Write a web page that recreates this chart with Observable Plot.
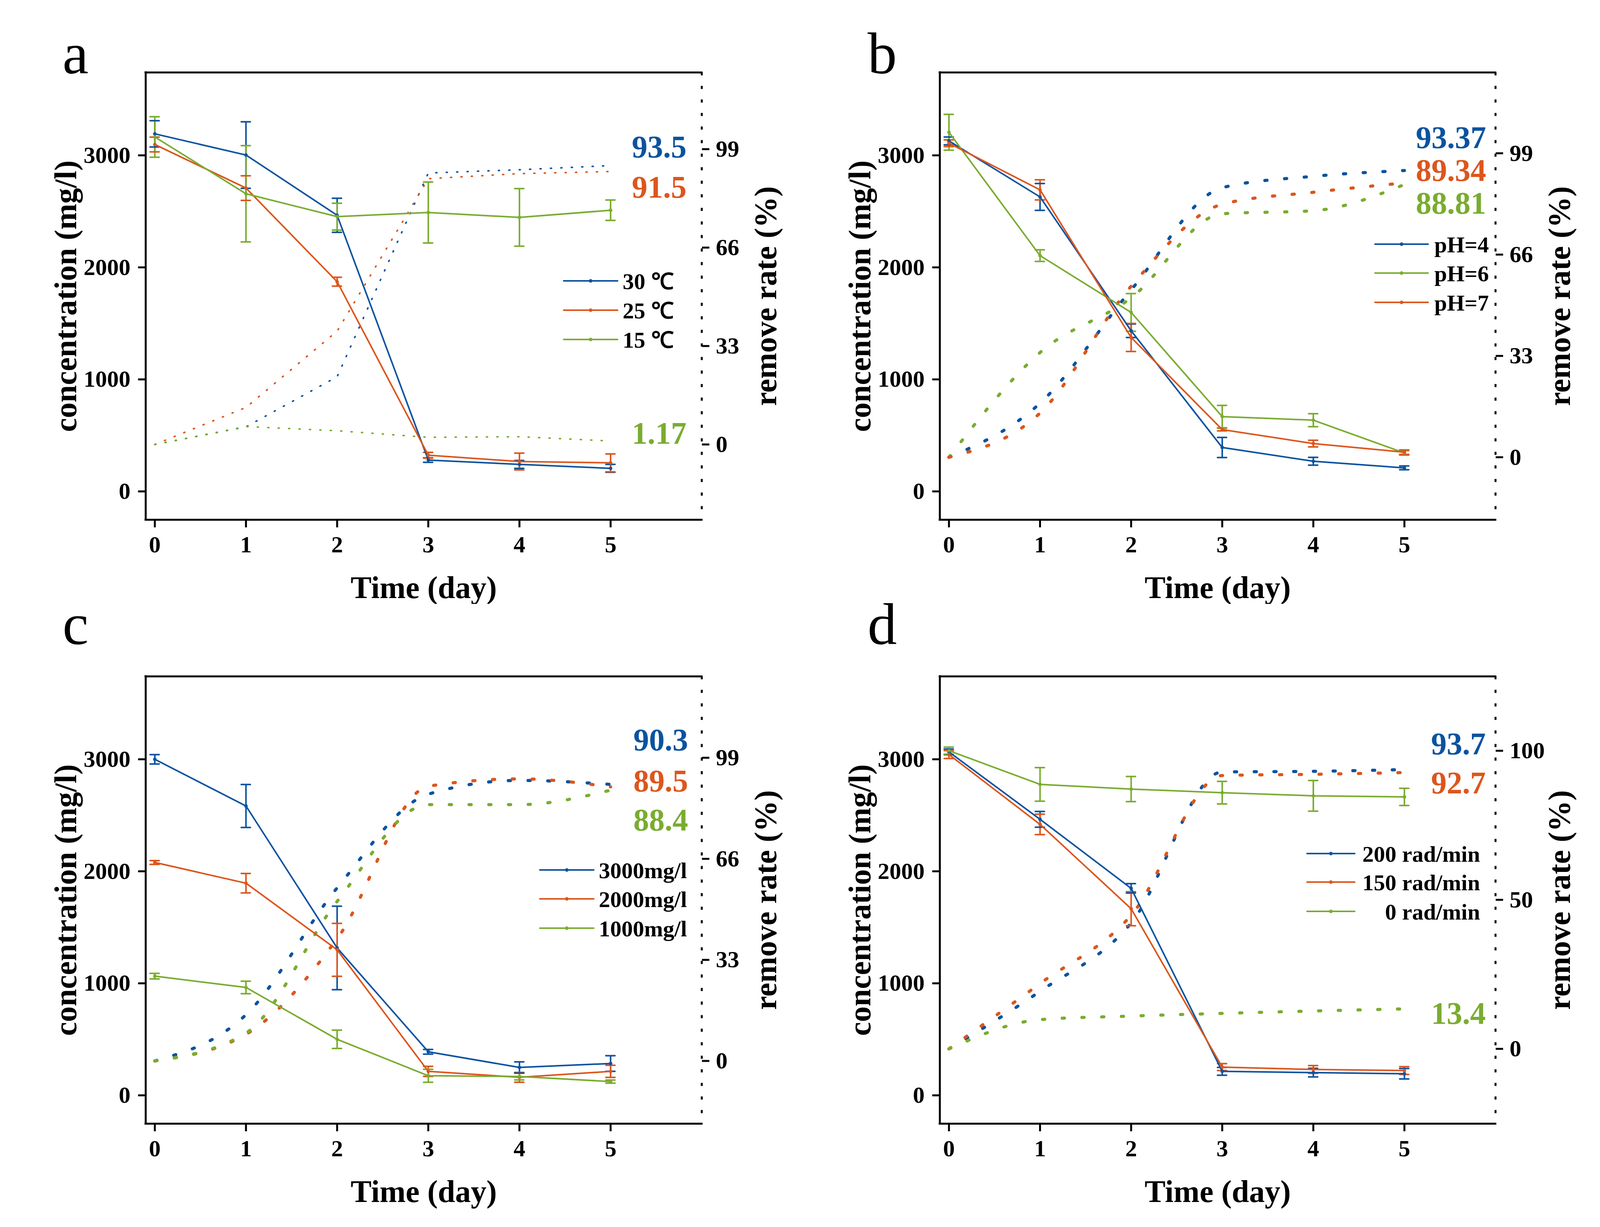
<!DOCTYPE html>
<html>
<head>
<meta charset="utf-8">
<script src="https://cdn.jsdelivr.net/npm/d3@7"></script>
<script src="https://cdn.jsdelivr.net/npm/@observablehq/plot@0.6"></script>
<style>
html,body{margin:0;padding:0;background:#fff;}
#fig{position:relative;width:4117px;height:3141px;background:#fff;overflow:hidden;}
.panel{position:absolute;}
#overlay{position:absolute;left:0;top:0;}
</style>
</head>
<body>
<div id="fig"></div>
<script>
// ---------------- data ----------------
const days = [0, 1, 2, 3, 4, 5];
const BLUE = "#0b539f", ORANGE = "#dc561d", GREEN = "#7aac30";

// panel a : temperature
const aSeries = ["30 ℃", "25 ℃", "15 ℃"];
const aColors = [BLUE, ORANGE, GREEN];
const aConc = [[3192, 3003, 2465, 280, 241, 206], [3097, 2708, 1872, 323, 267, 255], [3164, 2657, 2453, 2490, 2446, 2510]];
const aErr = [[117, 297, 152, 20, 35, 35], [66, 110, 40, 26, 75, 80], [181, 430, 120, 272, 257, 91]];
const aRate = [[0, 5.9, 22.7, 91.0, 92.1, 93.5], [0, 12.4, 38.0, 89.1, 90.8, 91.5], [0, 6.0, 4.6, 2.4, 2.6, 1.17]];
const aFinal = ["93.5", "91.5", "1.17"];
const aRateTicks = [0, 33, 66, 99];

// panel b : pH
const bSeries = ["pH=4", "pH=6", "pH=7"];
const bColors = [BLUE, GREEN, ORANGE];
const bConc = [[3129, 2629, 1434, 392, 269, 210], [3206, 2105, 1598, 668, 636, 343], [3108, 2692, 1374, 552, 427, 350]];
const bErr = [[35, 120, 60, 90, 35, 17], [160, 52, 168, 100, 58, 20], [30, 90, 125, 12, 30, 20]];
const bRate = [[0, 17.6, 54.5, 87.8, 91.5, 93.37], [0, 34.1, 51.9, 79.3, 80.3, 88.81], [0, 14.4, 55.7, 82.4, 86.3, 89.34]];
const bFinal = ["93.37", "88.81", "89.34"];
const bRateTicks = [0, 33, 66, 99];

// panel c : initial concentration
const cSeries = ["3000mg/l", "2000mg/l", "1000mg/l"];
const cColors = [BLUE, ORANGE, GREEN];
const cConc = [[3000, 2583, 1316, 389, 249, 284], [2079, 1894, 1299, 214, 161, 214], [1064, 963, 500, 175, 168, 123]];
const cErr = [[42, 192, 373, 21, 50, 70], [17, 87, 236, 45, 44, 54], [25, 56, 82, 58, 30, 14]];
const cRate = [[0, 15.1, 56.5, 87.1, 91.6, 90.3], [0, 8.7, 39.9, 89.7, 92.1, 89.5], [0, 9.1, 52.1, 83.7, 83.7, 88.4]];
const cFinal = ["90.3", "89.5", "88.4"];
const cRateTicks = [0, 33, 66, 99];

// panel d : rotation speed
const dSeries = ["200 rad/min", "150 rad/min", "0 rad/min"];
const dColors = [BLUE, ORANGE, GREEN];
const dConc = [[3066, 2464, 1848, 214, 203, 193], [3042, 2419, 1666, 252, 231, 221], [3077, 2776, 2734, 2702, 2674, 2664]];
const dErr = [[25, 70, 42, 35, 38, 47], [35, 91, 152, 31, 35, 35], [32, 150, 112, 101, 137, 77]];
const dRate = [[0, 19.3, 42.2, 92.9, 93.1, 93.7], [0, 21.9, 44.8, 91.7, 92.1, 92.7], [0, 9.8, 11.0, 11.9, 12.7, 13.4]];
const dFinal = ["93.7", "92.7", "13.4"];
const dRateTicks = [0, 50, 100];

const concTicks = [0, 1000, 2000, 3000];
const xDomain = [-0.1, 6.0];
const yDomain = [-253, 3740];

// ---------------- layout ----------------
const FONT = "'Liberation Serif', 'Times New Roman', serif";
const panels = [
  {letter: "a", series: aSeries, colors: aColors, conc: aConc, err: aErr, rate: aRate, finals: aFinal, rateTicks: aRateTicks,
   rate0: 419, rateK: 26.63, dot: {w: 4, dash: "2.7 24"}, curve: "linear",
   left: 0, top: 0, width: 2058, mL: 372.5, mR: 262, letterDx: -213, letterDy: 2,
   annDx: -39, annDy: [217, 320, 950],
   legend: {x1: 1443, x2: 1581, tx: 1594, rows: [719, 794, 869], anchor: "start"}},
  {letter: "b", series: bSeries, colors: bColors, conc: bConc, err: bErr, rate: bRate, finals: bFinal, rateTicks: bRateTicks,
   rate0: 305, rateK: 27.41, dot: {w: 8, dash: "5.5 45"}, curve: "monotone-x",
   left: 2058, top: 0, width: 2059, mL: 347.5, mR: 289, letterDx: -185, letterDy: 2,
   annDx: -24, annDy: [193, 361, 277],
   legend: {x1: 3520, x2: 3656, tx: 3672, rows: [625, 699, 774], anchor: "start"}},
  {letter: "c", series: cSeries, colors: cColors, conc: cConc, err: cErr, rate: cRate, finals: cFinal, rateTicks: cRateTicks,
   rate0: 307, rateK: 27.34, dot: {w: 8, dash: "5.5 45"}, curve: "monotone-x",
   left: 0, top: 1546, width: 2058, mL: 372.5, mR: 262, letterDx: -213, letterDy: -83,
   annDx: -35, annDy: [189, 294, 394],
   legend: {x1: 1382, x2: 1520, tx: 1533, rows: [2227, 2301, 2376], anchor: "start"}},
  {letter: "d", series: dSeries, colors: dColors, conc: dConc, err: dErr, rate: dRate, finals: dFinal, rateTicks: dRateTicks,
   rate0: 415, rateK: 26.61, dot: {w: 8, dash: "5.5 45"}, curve: "monotone-x",
   left: 2058, top: 1546, width: 2059, mL: 347.5, mR: 289, letterDx: -185, letterDy: -83,
   annDx: -25, annDy: [199, 299, 889],
   legend: {x1: 3346, x2: 3468, tx: 3789, rows: [2185, 2258, 2333], anchor: "end"}}
];

const fig = document.getElementById("fig");

function makePanel(p) {
  const toY = r => p.rate0 + p.rateK * r;
  const rows = p.series.flatMap((s, i) => days.map((d, j) => ({
    series: s, x: d, y: p.conc[i][j], e: p.err[i][j], r: p.rate[i][j]
  })));
  const cap = 0.05;
  const marks = [
    // frame: solid top/left/bottom, dotted right
    Plot.ruleY([yDomain[1]], {stroke: "black", strokeWidth: 5, strokeLinecap: "square"}),
    Plot.ruleY([yDomain[0]], {stroke: "black", strokeWidth: 5, strokeLinecap: "square"}),
    Plot.ruleX([xDomain[0]], {stroke: "black", strokeWidth: 5, strokeLinecap: "square"}),
    Plot.ruleX([xDomain[1]], {stroke: "black", strokeWidth: 5, strokeDasharray: "8 26.7"}),
    // remove-rate curves (right axis)
    Plot.line(rows, {x: "x", y: d => toY(d.r), z: "series", stroke: "series",
      strokeWidth: p.dot.w, strokeDasharray: p.dot.dash, strokeLinecap: "round", curve: p.curve}),
    // error bars
    Plot.ruleX(rows, {x: "x", y1: d => d.y - d.e, y2: d => d.y + d.e, stroke: "series", strokeWidth: 4}),
    Plot.ruleY(rows, {x1: d => d.x - cap, x2: d => d.x + cap, y: d => d.y + d.e, stroke: "series", strokeWidth: 4, strokeLinecap: "round"}),
    Plot.ruleY(rows, {x1: d => d.x - cap, x2: d => d.x + cap, y: d => d.y - d.e, stroke: "series", strokeWidth: 4, strokeLinecap: "round"}),
    // concentration lines
    Plot.line(rows, {x: "x", y: "y", z: "series", stroke: "series", strokeWidth: 4}),
    Plot.dot(rows, {x: "x", y: "y", r: 4.5, fill: "series", stroke: null}),
    // axes
    Plot.axisX({ticks: days, tickFormat: d => String(d), tickSize: 20, tickPadding: 21, strokeWidth: 5,
      fontSize: 60, fontWeight: "bold", label: null}),
    Plot.axisY({anchor: "left", ticks: concTicks, tickFormat: d => String(d), tickSize: 19, tickPadding: 20,
      strokeWidth: 5, fontSize: 60, fontWeight: "bold", label: null}),
    Plot.axisY({anchor: "right", ticks: p.rateTicks.map(toY),
      tickFormat: v => String(Math.round((v - p.rate0) / p.rateK)), tickSize: 19, tickPadding: 17,
      strokeWidth: 5, fontSize: 60, fontWeight: "bold", label: null}),
    // axis titles
    Plot.text(["concentration (mg/l)"], {text: d => d, frameAnchor: "left", rotate: -90, dx: -178,
      textAnchor: "middle", lineAnchor: "bottom", fontSize: 80, fontWeight: "bold"}),
    Plot.text(["remove rate (%)"], {text: d => d, frameAnchor: "right", rotate: -90, dx: 190,
      textAnchor: "middle", lineAnchor: "bottom", fontSize: 80, fontWeight: "bold"}),
    Plot.text(["Time (day)"], {text: d => d, frameAnchor: "bottom", dy: 200,
      textAnchor: "middle", lineAnchor: "bottom", fontSize: 80, fontWeight: "bold"}),
    // panel letter
    Plot.text([p.letter], {text: d => d, frameAnchor: "top-left", dx: p.letterDx, dy: p.letterDy,
      textAnchor: "start", lineAnchor: "bottom", fontSize: 150, fontWeight: "normal"}),
    // final removal-rate annotations
    ...p.finals.map((t, i) => Plot.text([t], {text: d => d, frameAnchor: "top-right", dx: p.annDx, dy: p.annDy[i],
      textAnchor: "end", lineAnchor: "bottom", fontSize: 80, fontWeight: "bold", fill: p.colors[i]}))
  ];
  const svg = Plot.plot({
    width: p.width, height: 1570,
    marginLeft: p.mL, marginRight: p.mR, marginTop: 185, marginBottom: 240,
    x: {domain: xDomain},
    y: {domain: yDomain},
    color: {domain: p.series, range: p.colors},
    style: {fontFamily: FONT, color: "black", background: "white", overflow: "visible"},
    marks
  });
  const div = document.createElement("div");
  div.className = "panel";
  div.style.left = p.left + "px";
  div.style.top = p.top + "px";
  div.appendChild(svg);
  fig.appendChild(div);
}

panels.forEach(makePanel);

// legends (overlay in figure pixel space)
const ov = d3.select("#fig").append("svg").attr("id", "overlay")
  .attr("width", 4117).attr("height", 3141)
  .style("font-family", FONT).style("font-weight", "bold");
panels.forEach(p => {
  const L = p.legend;
  p.series.forEach((s, i) => {
    const y = L.rows[i];
    ov.append("line").attr("x1", L.x1).attr("x2", L.x2).attr("y1", y).attr("y2", y)
      .attr("stroke", p.colors[i]).attr("stroke-width", 4).attr("stroke-linecap", "round");
    ov.append("circle").attr("cx", (L.x1 + L.x2) / 2).attr("cy", y).attr("r", 4.5).attr("fill", p.colors[i]);
    ov.append("text").attr("x", L.tx).attr("y", y + 21).attr("text-anchor", L.anchor)
      .attr("font-size", 58).attr("fill", "black").text(s);
  });
});
</script>
</body>
</html>
